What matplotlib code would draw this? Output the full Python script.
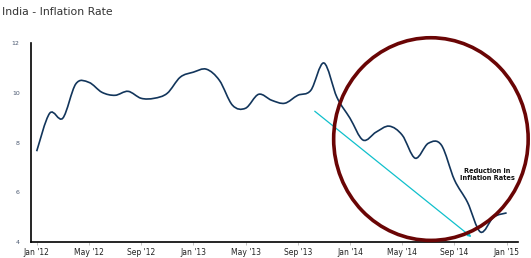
import matplotlib.pyplot as plt
from matplotlib.path import Path
from matplotlib.patches import PathPatch, Ellipse
import numpy as np

# monthly CPI inflation, Jan 2012 .. Jan 2015
months = list(range(37))
inflation = [7.65, 9.18, 8.98, 10.36, 10.42, 10.02, 9.90, 10.06, 9.78, 9.78,
             9.98, 10.63, 10.83, 10.95, 10.50, 9.50, 9.38, 9.94, 9.70, 9.58,
             9.90, 10.10, 11.20, 9.82, 8.98, 8.10, 8.42, 8.66, 8.30, 7.37,
             7.97, 7.90, 6.50, 5.60, 4.40, 5.00, 5.17]
tick_pos = [0, 4, 8, 12, 16, 20, 24, 28, 32, 36]
tick_labels = ["Jan '12", "May '12", "Sep '12", "Jan '13", "May '13",
               "Sep '13", "Jan '14", "May '14", "Sep '14", "Jan '15"]
y_ticks = [4, 6, 8, 10, 12]


def smooth_path(x, y):
    # catmull-rom through the points, drawn as cubic bezier segments
    x = np.asarray(x, float)
    y = np.asarray(y, float)
    verts = [(x[0], y[0])]
    codes = [Path.MOVETO]
    n = len(x)
    for i in range(n - 1):
        p0 = max(i - 1, 0)
        p3 = min(i + 2, n - 1)
        c1 = (x[i] + (x[i + 1] - x[p0]) / 6, y[i] + (y[i + 1] - y[p0]) / 6)
        c2 = (x[i + 1] - (x[p3] - x[i]) / 6, y[i + 1] - (y[p3] - y[i]) / 6)
        verts += [c1, c2, (x[i + 1], y[i + 1])]
        codes += [Path.CURVE4] * 3
    return Path(verts, codes)


fig = plt.figure(figsize=(5.31, 2.58), dpi=100)
ax = fig.add_axes([0.058, 0.062, 0.917, 0.771])

ax.add_patch(PathPatch(smooth_path(months, inflation), fill=False,
                       edgecolor="#12355b", lw=1.2, zorder=3))

ax.set_xlim(-0.45, 36.85)
ax.set_ylim(4, 12)

ax.set_xticks(tick_pos)
ax.set_xticklabels(tick_labels, fontsize=5.5, color="#222222")
ax.set_yticks(y_ticks)
ax.set_yticklabels([str(v) for v in y_ticks], fontsize=4.5, color="#4a5870")
ax.tick_params(axis="x", length=2.5, width=0.5, color="#aaaaaa", pad=1.5)
ax.tick_params(axis="y", length=0, pad=8)

for s in ["top", "right"]:
    ax.spines[s].set_visible(False)
ax.spines["left"].set_linewidth(1.2)
ax.spines["bottom"].set_linewidth(1.2)

# trend arrow
ax.annotate("", xy=(33.3, 4.2), xytext=(21.3, 9.26),
            arrowprops=dict(arrowstyle="-|>", color="#10c0cc", lw=0.9,
                            mutation_scale=5, shrinkA=0, shrinkB=0), zorder=4)

# highlight circle
ax.add_patch(Ellipse((30.2, 8.14), 14.9, 8.15, fill=False,
                     edgecolor="#6a0505", lw=2.6, zorder=5, clip_on=False))

ax.text(34.5, 6.7, "Reduction in\nInflation Rates", fontsize=4.8,
        fontweight="bold", ha="center", va="center", color="#111111",
        linespacing=1.25, zorder=6)

fig.text(0.004, 0.955, "India - Inflation Rate", fontsize=7.8, color="#333333",
         ha="left", va="center")

fig.savefig("out.png", dpi=100)
